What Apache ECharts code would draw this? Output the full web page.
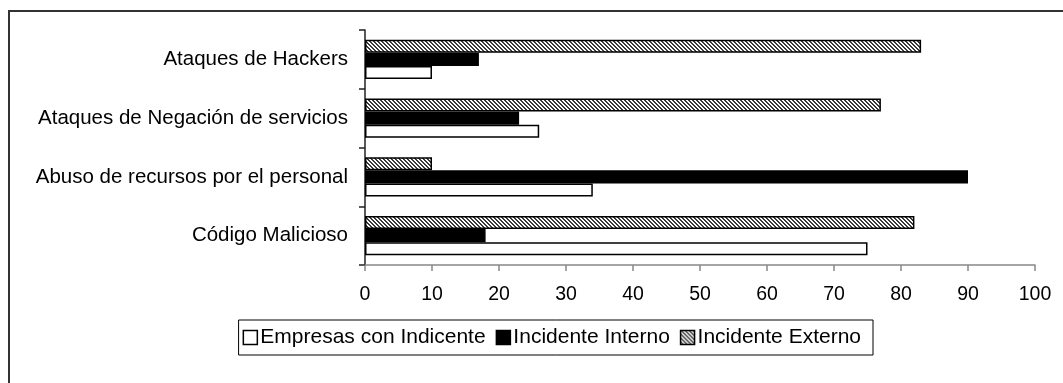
<!DOCTYPE html>
<html lang="es">
<head>
    <meta charset="UTF-8">
    <title>Incidentes</title>
    <style type="text/css">
        * { margin: 0; padding: 0; }
        html, body { width: 100%; height: 100%; background: #fff; }
        #main { width: 1063px; height: 383px; }
    </style>
</head>
<body>
<div id="main"></div>
<script src="https://cdn.jsdelivr.net/npm/echarts@6/dist/echarts.min.js"></script>
<script>
    // categorias (de abajo hacia arriba)
    var categorias = ['Código Malicioso', 'Abuso de recursos por el personal', 'Ataques de Negación de servicios', 'Ataques de Hackers'];
    var empresas = [75, 34, 26, 10];
    var interno = [18, 90, 23, 17];
    var externo = [82, 10, 77, 83];
    var nombres = ['Empresas con Indicente', 'Incidente Interno', 'Incidente Externo'];

    // rayado diagonal para "Incidente Externo"
    var cv = document.createElement('canvas');
    cv.width = 4; cv.height = 4;
    var ctx = cv.getContext('2d');
    ctx.fillStyle = '#fff';
    ctx.fillRect(0, 0, 4, 4);
    ctx.fillStyle = '#3a3a3a';
    for (var y = 0; y < 4; y++) {
        for (var x = 0; x < 4; x++) {
            var d = ((x - y) % 4 + 4) % 4;
            if (d == 0 || d == 1) ctx.fillRect(x, y, 1, 1);
        }
    }
    var rayado = { image: cv, repeat: 'repeat' };

    var font = 'Liberation Sans';
    var myChart = echarts.init(document.getElementById('main'));

    var option = {
        animation: false,
        backgroundColor: '#fff',
        graphic: [{
            type: 'rect',
            shape: { x: 9, y: 11, width: 1060, height: 380 },
            style: { fill: 'none', stroke: '#333', lineWidth: 2 },
            silent: true
        }],
        grid: { left: 365, right: 28, top: 30, bottom: 118 },
        legend: {
            data: nombres,
            icon: 'rect',
            right: 190,
            top: 320,
            orient: 'horizontal',
            itemWidth: 14,
            itemHeight: 14,
            itemGap: 10,
            padding: [7, 12, 7, 4],
            borderColor: '#000',
            borderWidth: 1,
            itemStyle: { borderColor: '#000', borderWidth: 1.5 },
            textStyle: { fontFamily: font, fontSize: 21, color: '#000', padding: [0, 0, 0, -2] }
        },
        xAxis: {
            type: 'value',
            min: 0,
            max: 100,
            interval: 10,
            splitLine: { show: false },
            axisLine: { show: true, lineStyle: { color: '#888', width: 1.5 } },
            axisTick: { show: true, length: 6, lineStyle: { color: '#888', width: 1.5 } },
            axisLabel: { margin: 20, fontFamily: font, fontSize: 19.5, color: '#000' }
        },
        yAxis: {
            type: 'category',
            data: categorias,
            axisLine: { lineStyle: { color: '#222', width: 1.5 } },
            axisTick: { show: true, length: 6, lineStyle: { color: '#222', width: 1.5 } },
            axisLabel: { margin: 17, fontFamily: font, fontSize: 20.5, color: '#000' }
        },
        // orden invertido para que Externo quede arriba dentro de cada grupo
        series: [{
            name: nombres[2],
            type: 'bar',
            data: externo,
            barGap: 0,
            barCategoryGap: '33%',
            itemStyle: { color: rayado, borderColor: '#000', borderWidth: 1.5 }
        }, {
            name: nombres[1],
            type: 'bar',
            data: interno,
            barGap: 0,
            barCategoryGap: '33%',
            itemStyle: { color: '#000', borderColor: '#000', borderWidth: 1.5 }
        }, {
            name: nombres[0],
            type: 'bar',
            data: empresas,
            barGap: 0,
            barCategoryGap: '33%',
            itemStyle: { color: '#fff', borderColor: '#000', borderWidth: 1.5 }
        }]
    };
    myChart.setOption(option);
</script>
</body>
</html>
